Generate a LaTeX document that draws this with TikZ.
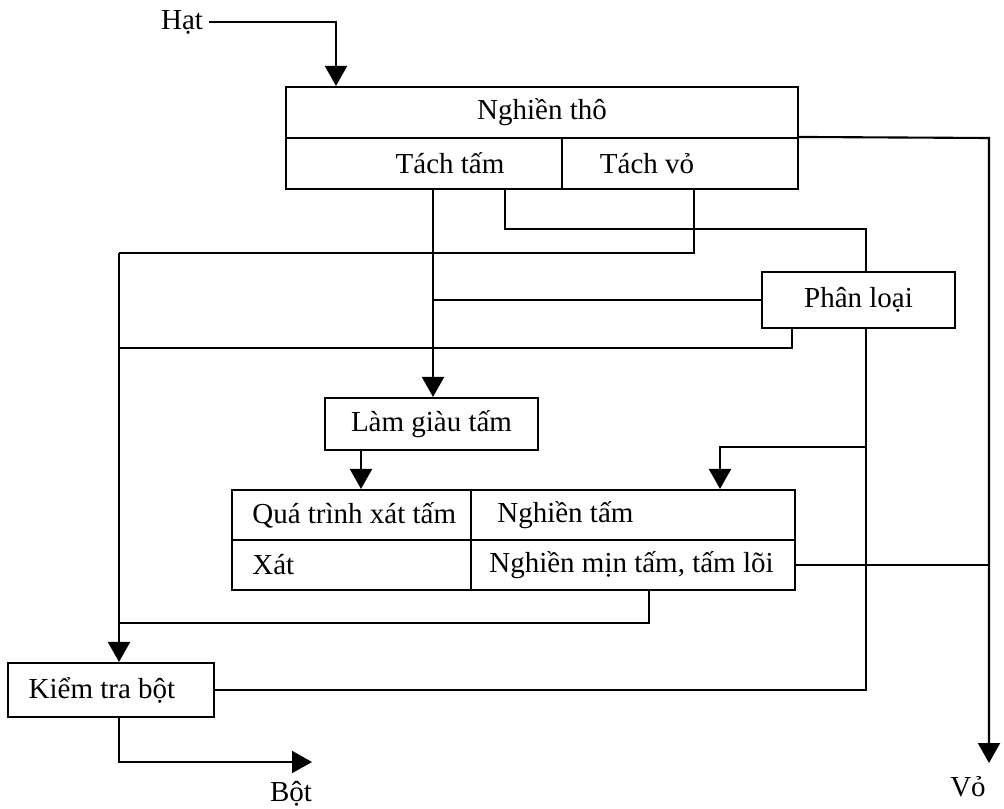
\documentclass[tikz,border=0pt]{standalone}
\usepackage{fontspec}
\setmainfont{Liberation Serif}
\usepackage{tikz}
\usetikzlibrary{positioning, arrows.meta, calc}

\begin{document}
\begin{tikzpicture}[
  x=0.02cm, y=-0.02cm,
  every node/.style={font=\fontsize{16.5}{19}\selectfont},
  box/.style={draw, line width=1.2pt, inner sep=0pt},
  lbl/.style={inner sep=0pt},
  flow/.style={line width=1.2pt},
  arr/.style={flow, -{Triangle[length=0.4cm, width=0.44cm]}}
]
    \useasboundingbox (0,0) rectangle (1004,808);

    \node (hat) at (182,22) {Hạt};

    \begin{scope}[every node/.append style={box}]
        \node[minimum width=10.24cm, minimum height=1.02cm] (nghientho) at (542,112.5) {Nghiền thô};
        \node[minimum width=5.52cm, minimum height=1.02cm] (tachtam) at (424,163.5) {};
        \node[minimum width=4.72cm, minimum height=1.02cm] (tachvo) at (680,163.5) {};
        \node[minimum width=3.86cm, minimum height=1.12cm] (phanloai) at (858.5,300) {Phân loại};
        \node[minimum width=4.26cm, minimum height=1.04cm] (lamgiau) at (431.5,424) {Làm giàu tấm};
        \node[minimum width=4.78cm, minimum height=1.0cm] (quatrinh) at (351.5,515) {};
        \node[minimum width=6.48cm, minimum height=1.0cm] (nghientam) at (633,515) {};
        \node[minimum width=4.78cm, minimum height=1.0cm] (xat) at (351.5,565) {};
        \node[minimum width=6.48cm, minimum height=1.0cm] (nghienmin) at (633,565) {};
        \node[minimum width=4.12cm, minimum height=1.08cm] (kiemtra) at (111,690) {};
    \end{scope}

    \node[lbl] (lbltachtam) at (450,163.5) {Tách tấm};
    \node[lbl] (lbltachvo) at (647,163.5) {Tách vỏ};
    \node[lbl, anchor=west] (lblquatrinh) at (252,515) {Quá trình xát tấm};
    \node[lbl, anchor=west] (lblnghientam) at (497,515) {Nghiền tấm};
    \node[lbl, anchor=west] (lblxat) at (252,565) {Xát};
    \node[lbl, anchor=west] (lblnghienmin) at (489,565) {Nghiền mịn tấm, tấm lõi};
    \node[lbl] (lblkiemtra) at (102,690) {Kiểm tra bột};

    \node (vo) at (968,787) {Vỏ};
    \node (bot) at (291,794) {Bột};

    % bends and junctions
    \coordinate (hatturn) at (336,22);
    \coordinate (voturn) at (989,138);
    \coordinate (voend) at (989,763);
    \coordinate (j1) at (433,300);
    \coordinate (j2) at (866,447);
    \coordinate (l1) at (119,253);
    \coordinate (t1) at (505,229);
    \coordinate (t2) at (694,253);
    \coordinate (t3) at (792,348);
    \coordinate (t4) at (720,447);
    \coordinate (t5) at (361,470);
    \coordinate (t6) at (649,623);
    \coordinate (t7) at (119,762);
    \coordinate (botend) at (312,762);

    \draw[arr] (hat.east) -- (hatturn) -- (hatturn |- nghientho.north);
    \draw[arr] (tachvo.north east) -- (voturn) -- (voend);

    \draw[arr] (tachtam.south -| j1) -- (lamgiau.north -| j1);
    \draw[flow] (phanloai.west) -- (j1);
    \draw[flow] (tachtam.south -| t1) -- (t1) -- (t1 -| j2) -- (phanloai.north -| j2);
    \draw[flow] (tachvo.south -| t2) -- (t2) -- (l1);
    \draw[arr] (l1) -- (kiemtra.north -| l1);
    \draw[flow] (phanloai.south -| t3) -- (t3) -- (t3 -| l1);
    \draw[flow] (phanloai.south -| j2) -- (j2 |- kiemtra.east) -- (kiemtra.east);
    \draw[arr] (j2) -- (t4) -- (t4 |- nghientam.north);

    \draw[arr] (lamgiau.south -| t5) -- (quatrinh.north -| t5);
    \draw[flow] (nghienmin.east) -- (nghienmin.east -| voturn);
    \draw[flow] (nghienmin.south -| t6) -- (t6) -- (t6 -| l1);
    \draw[arr] (kiemtra.south -| t7) -- (t7) -- (botend);
\end{tikzpicture}
\end{document}
